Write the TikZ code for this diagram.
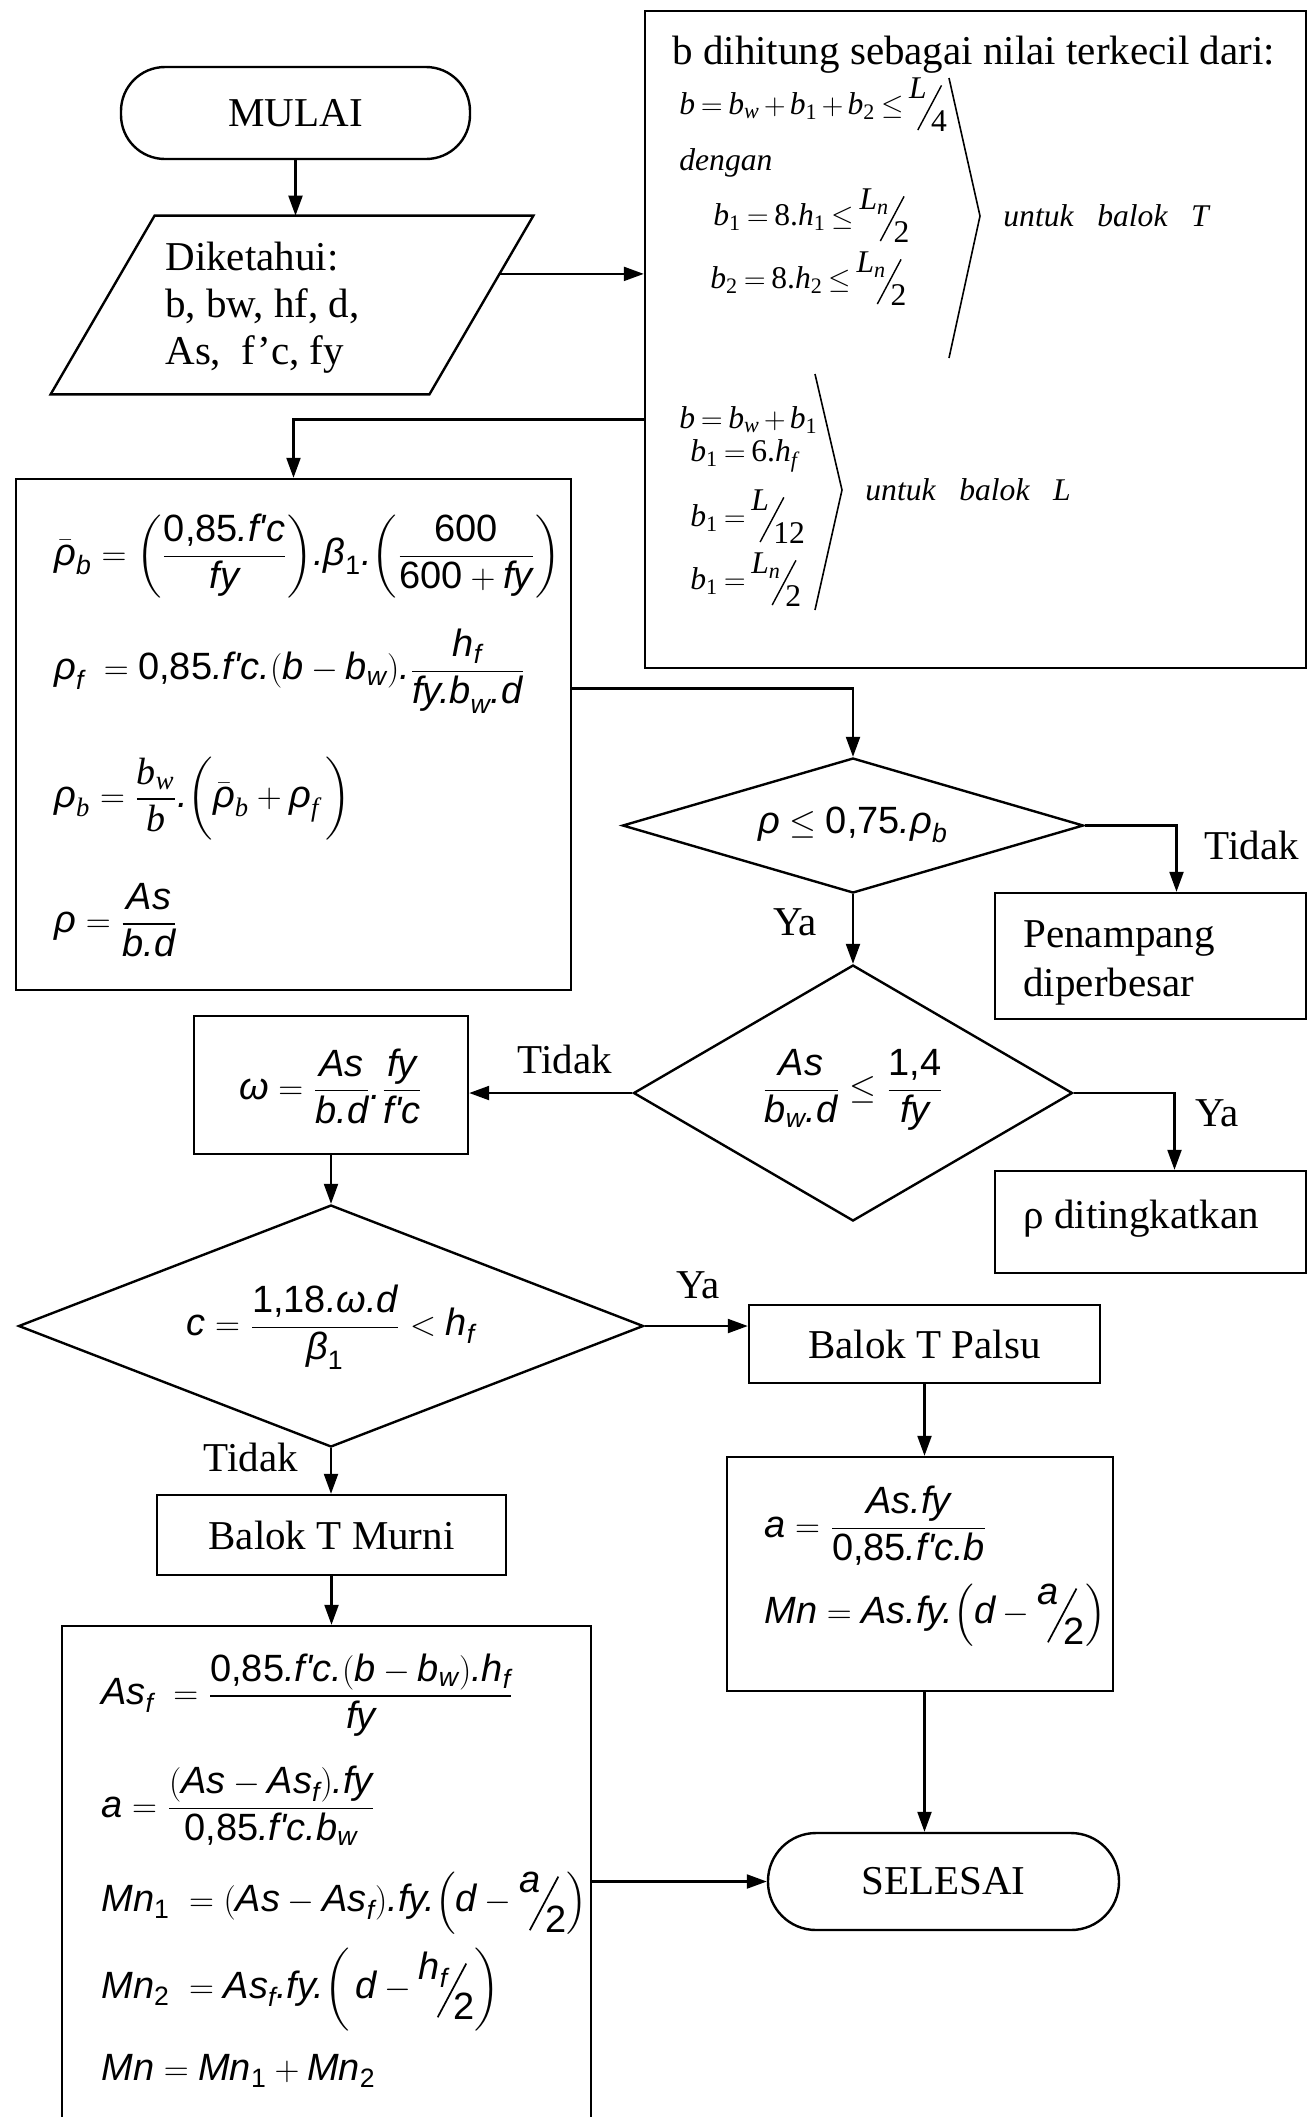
\documentclass[tikz,border=0pt]{standalone}
\usepackage{amsmath}
\usepackage{graphicx}
\usepackage{fontspec}
\setmainfont{Liberation Serif}
\newfontfamily\lsans{Liberation Sans}
\usetikzlibrary{arrows.meta,shapes.geometric,calc}
\newcommand\A[1]{\text{\lsans\itshape #1}}
\newcommand\N[1]{\text{\lsans\upshape #1}}
\newcommand\T[1]{\text{\rmfamily\itshape #1}}
\newcommand\R[1]{\text{\rmfamily\upshape #1}}
\newcommand\tightm{\thickmuskip=3.5mu\relax\medmuskip=2.5mu\relax}
\newcommand\sfr[2]{\raisebox{0.5em}{#1}\kern-0.3em\raisebox{-0.5em}{\rotatebox{62}{\rule{1.6em}{0.045em}}}\kern-0.35em\raisebox{-0.55em}{#2}}
\tikzset{
  shp/.style={draw, line width=1.2pt, inner sep=0pt},
  boxn/.style={shp, rectangle},
  termn/.style={shp, rectangle, rounded corners=22pt},
  dian/.style={shp, diamond},
  conn/.style={line width=1.1pt, -{Triangle[width=7pt,length=10pt]}},
  brk/.style={line width=0.8pt},
  txt/.style={inner sep=0pt, font=\fontsize{20.5}{23.5}\selectfont},
  fsans/.style={inner sep=0pt, font=\fontsize{19}{23}\selectfont\lsans},
  fser/.style={inner sep=0pt, font=\fontsize{15.8}{19}\selectfont},
}
\begin{document}
\begin{tikzpicture}[x=0.5pt,y=-0.5pt]
\useasboundingbox (0,0) rectangle (1309,2117);
\fill[white] (0,0) rectangle (1309,2117);

% MULAI
\node[termn, txt, minimum width=174.5pt, minimum height=46pt] (mulai) at (295.5,113) {MULAI};

% input parallelogram
\node[inner sep=0pt, minimum width=241pt, minimum height=89pt] (input) at (292,305) {};
\draw[line width=1.2pt] (input.south west) -- ([xshift=52pt]input.north west) -- (input.north east) -- ([xshift=-52pt]input.south east) -- cycle;
\node[txt, anchor=west, align=left] (intext) at (165,308) {Diketahui:\\b, bw, hf, d,\\As,~ f’c, fy};
\draw[conn] (mulai.south) -- (mulai.south |- input.north);
\coordinate (inR) at ($(input.north east)!0.326!([xshift=-52pt]input.south east)$);

% b box
\node[boxn, minimum width=330.5pt, minimum height=328.5pt] (bbox) at (975.5,339.5) {};
\draw[conn] (inR) -- (inR -| bbox.west);
\node[txt, anchor=west] (btitle) at (672,55) {b dihitung sebagai nilai terkecil dari:};
\node[fser, anchor=west] (bf1) at (679,105) {$\tightm\T{b} = \T{b}_{\T{w}} + \T{b}_{\R{1}} + \T{b}_{\R{2}} \le \sfr{\T{L}}{\R{4}}$};
\node[fser, anchor=west] (bf2) at (679,163) {\itshape dengan};
\node[fser, anchor=west] (bf3) at (713,216) {$\tightm\T{b}_{\R{1}} = \R{8.}\T{h}_{\R{1}} \le \sfr{$\T{L}_{\T{n}}$}{\R{2}}$};
\node[fser, anchor=west] (bf4) at (710,279) {$\tightm\T{b}_{\R{2}} = \R{8.}\T{h}_{\R{2}} \le \sfr{$\T{L}_{\T{n}}$}{\R{2}}$};
\draw[brk] (949,78) -- (980,216) -- (949,358);
\node[fser, anchor=west] (bT) at (1003,216) {\itshape untuk~~ balok~~ T};
\node[fser, anchor=west] (bg1) at (679,420) {$\tightm\T{b} = \T{b}_{\T{w}} + \T{b}_{\R{1}}$};
\node[fser, anchor=west] (bg2) at (690,456) {$\tightm\T{b}_{\R{1}} = \R{6.}\T{h}_{\T{f}}$};
\node[fser, anchor=west] (bg3) at (690,517) {$\tightm\T{b}_{\R{1}} = \sfr{\T{L}}{\R{12}}$};
\node[fser, anchor=west] (bg4) at (690,580) {$\tightm\T{b}_{\R{1}} = \sfr{$\T{L}_{\T{n}}$}{\R{2}}$};
\draw[brk] (815,374) -- (842,490) -- (815,610);
\node[fser, anchor=west] (bL) at (865,490) {\itshape untuk~~ balok~~ L};

% rho box
\node[boxn, minimum width=277.5pt, minimum height=255.5pt] (rhobox) at (293.5,734.5) {};
\draw[conn] ([yshift=-40pt]bbox.west) -| (rhobox.north);
\node[fsans, anchor=west] (r1) at (54,556) {$\bar{\A{ρ}}_{\A{b}} = {\left(\dfrac{\N{0,85}\A{.f'c}}{\A{fy}}\right)}\A{.β}_{\N{1}}\A{.}{\left(\dfrac{\N{600}}{\N{600} + \A{fy}}\right)}$};
\node[fsans, anchor=west] (r2) at (54,671) {$\A{ρ}_{\A{f}}\;= \N{0,85}\A{.f'c.}{\left(\A{b} - \A{b}_{\A{w}}\right)}\A{.}\dfrac{\A{h}_{\A{f}}}{\A{fy.b}_{\A{w}}\A{.d}}$};
\node[fsans, anchor=west] (r3) at (54,799) {$\A{ρ}_{\T{b}} = \dfrac{\T{b}_{\T{w}}}{\T{b}}\A{.}{\left(\vphantom{\dfrac{\T{b}_{\T{w}}}{\T{b}}}\bar{\A{ρ}}_{\T{b}} + \A{ρ}_{\T{f}}\,\right)}$};
\node[fsans, anchor=west] (r4) at (54,920) {$\A{ρ} = \dfrac{\A{As}}{\A{b.d}}$};

% decision 1
\node[dian, minimum width=230.5pt, minimum height=67.5pt] (d1) at (853,825.5) {};
\draw[conn] ([yshift=23pt]rhobox.east) -| (d1.north);
\node[fsans] (d1t) at (853,825) {$\A{ρ} \le \N{0,75}\A{.ρ}_{\A{b}}$};
\node[boxn, minimum width=155.5pt, minimum height=63pt] (pen) at (1150.5,956) {};
\draw[conn] (d1.east) -| ([xshift=13pt]pen.north);
\node[txt] (l1) at (1252,845) {Tidak};
\node[txt, anchor=west, align=left, font=\fontsize{20.5}{24.5}\selectfont] (pent) at (1023,963) {Penampang\\diperbesar};

% decision 2
\node[dian, minimum width=219.5pt, minimum height=128pt] (d2) at (853,1093) {};
\draw[conn] (d1.south) -- (d2.north);
\node[txt] (l2) at (795,922) {Ya};
\node[fsans] (d2t) at (853,1090) {$\dfrac{\A{As}}{\A{b}_{\A{w}}\A{.d}} \le \dfrac{\N{1,4}}{\A{fy}}$};

% omega box
\node[boxn, minimum width=137pt, minimum height=69pt] (omega) at (331,1085) {};
\draw[conn] (d2.west) -- (d2.west -| omega.east);
\node[txt] (l3) at (565,1059) {Tidak};
\node[fsans] (omt) at (331,1086) {$\A{ω} = \dfrac{\A{As}}{\A{b.d}}\A{.}\dfrac{\A{fy}}{\A{f'c}}$};

% rho ditingkatkan
\node[boxn, minimum width=155.5pt, minimum height=51pt] (rinc) at (1150.5,1222) {};
\draw[conn] (d2.east) -| ([xshift=12pt]rinc.north);
\node[txt] (l4) at (1217,1113) {Ya};
\node[txt, anchor=west] (rinct) at (1023,1219) {ρ ditingkatkan};

% decision 3
\node[dian, minimum width=312.5pt, minimum height=121pt] (d3) at (331,1326) {};
\draw[conn] (omega.south) -- (d3.north);
\node[fsans] (d3t) at (331,1327) {$\A{c} = \dfrac{\N{1,18}\A{.ω.d}}{\A{β}_{\N{1}}} < \A{h}_{\A{f}}$};

% Balok T Palsu branch
\node[boxn, txt, minimum width=175.5pt, minimum height=39pt] (palsu) at (924.5,1344) {Balok T Palsu};
\draw[conn] (d3.east) -- (d3.east -| palsu.west);
\node[txt] (l5) at (698,1285) {Ya};
\node[boxn, minimum width=193pt, minimum height=117pt] (abox) at (920,1574) {};
\draw[conn] (palsu.south) -- (palsu.south |- abox.north);
\node[fsans, anchor=west] (a1) at (764,1526) {$\A{a} = \dfrac{\A{As.fy}}{\N{0,85}\A{.f'c.b}}$};
\node[fsans, anchor=west] (a2) at (764,1615) {$\A{Mn} = \A{As.fy.}{\left(\A{d} - \sfr{\A{a}}{\N{2}}\right)}$};

% SELESAI
\node[termn, txt, minimum width=175.5pt, minimum height=48.5pt, rounded corners=24pt] (sel) at (943.5,1881.5) {SELESAI};
\draw[conn] (palsu.south |- abox.south) -- (palsu.south |- sel.north);

% Balok T Murni branch
\node[boxn, txt, minimum width=174.5pt, minimum height=40pt] (murni) at (331.5,1535) {Balok T Murni};
\draw[conn] (d3.south) -- (d3.south |- murni.north);
\node[txt] (l6) at (251,1457) {Tidak};
\node[boxn, minimum width=264.5pt, minimum height=252pt] (asf) at (326.5,1878) {};
\draw[conn] (murni.south) -- (murni.south |- asf.north);
\node[fsans, anchor=west] (f1) at (101,1695) {$\A{As}_{\A{f}}\;= \dfrac{\N{0,85}\A{.f'c.}(\A{b} - \A{b}_{\A{w}})\A{.h}_{\A{f}}}{\A{fy}}$};
\node[fsans, anchor=west] (f2) at (101,1806) {$\A{a} = \dfrac{(\A{As} - \A{As}_{\A{f}})\A{.fy}}{\N{0,85}\A{.f'c.b}_{\A{w}}}$};
\node[fsans, anchor=west] (f3) at (101,1903) {$\A{Mn}_{\N{1}}\;= (\A{As} - \A{As}_{\A{f}})\A{.fy.}{\left(\A{d} - \sfr{\A{a}}{\N{2}}\right)}$};
\node[fsans, anchor=west] (f4) at (101,1990) {$\A{Mn}_{\N{2}}\;= \A{As}_{\A{f}}\A{.fy.}{\left(\,\A{d} - \sfr{$\A{h}_{\A{f}}$}{\N{2}}\right)}$};
\node[fsans, anchor=west] (f5) at (101,2071) {$\A{Mn} = \A{Mn}_{\N{1}} + \A{Mn}_{\N{2}}$};
\draw[conn] (asf.east |- sel.west) -- (sel.west);
\end{tikzpicture}
\end{document}
